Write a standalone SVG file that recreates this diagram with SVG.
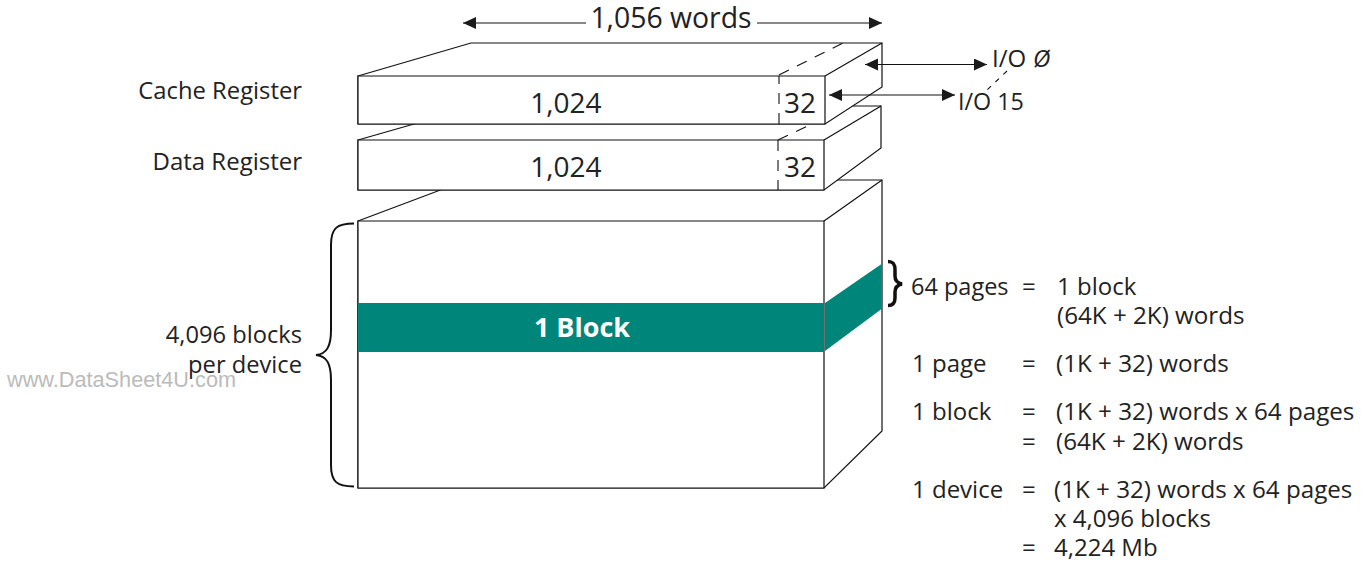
<svg xmlns="http://www.w3.org/2000/svg" width="1365" height="562" viewBox="0 0 1365 562">
<defs><marker id="a" markerWidth="14" markerHeight="14" refX="13" refY="6" orient="auto-start-reverse" markerUnits="userSpaceOnUse"><path d="M0 0L13 6L0 12z" fill="#1a1a1a"/></marker></defs>
<style>
text{font-family:"Open Sans","Noto Sans","Liberation Sans",sans-serif;fill:#222;font-size:24px}
.s{fill:#fff;stroke:#111;stroke-width:1.2}
.n{fill:none;stroke:#111;stroke-width:1.2}
.d{fill:none;stroke:#111;stroke-width:1.1;stroke-dasharray:11 9}
.m{font-size:28px}
</style>
<rect width="1365" height="562" fill="#fff"/>
<g id="device"><path class="s" d="M358 221L467 180H882V431L824 488H358z"/><path class="s" d="M358 221H824V488H358z"/><path class="n" d="M824 221L882 180"/>
<rect x="358" y="303" width="466" height="49" fill="#00857a"/><path d="M825 303L881.500 264V309L825 351z" fill="#00857a"/>
<text x="582" y="337" text-anchor="middle" style="font-size:27px;font-weight:700;fill:#fff">1 Block</text></g>
<g id="data-register"><path class="s" d="M358 140L477 106H881V148L824 190H358z"/><path class="s" d="M358 140H824V190H358z"/><path class="n" d="M824 140L881 106"/><path class="d" d="M778 140V190M778 140L812 124"/>
<text class="m" x="566" y="177" text-anchor="middle">1,024</text><text class="m" x="800" y="177" text-anchor="middle">32</text></g>
<g id="cache-register"><path class="s" d="M358 76L471 43H882V87L825 124H358z"/><path class="s" d="M358 76H825V124H358z"/><path class="n" d="M825 76L882 43"/><path class="d" d="M779 124V76M779 75L843 43"/>
<text class="m" x="566" y="113" text-anchor="middle">1,024</text><text class="m" x="800" y="113" text-anchor="middle">32</text></g>
<g id="connectors"><path class="n" marker-start="url(#a)" d="M463 23H586"/><path class="n" marker-end="url(#a)" d="M757 23H882"/>
<path class="n" marker-start="url(#a)" marker-end="url(#a)" d="M865 64.500H987"/><path class="n" marker-start="url(#a)" marker-end="url(#a)" d="M829 95H955"/><path class="d" style="stroke-dasharray:5 6" d="M1007 71L987 90"/></g>
<g id="braces"><path class="n" style="stroke-width:2" d="M354 223.500C337 223.500 331 228 331 245V330C331 346 327 354 316 355C327 356 331 364 331 380V465C331 482 337 486.500 354 486.500"/><path class="n" style="stroke-width:3.500" d="M888 261.500C893 261.500 895 264 895 270V276C895 280 897 283 902 284C897 285 895 288 895 292V298C895 303 893 305.500 888 305.500"/></g>
<g id="labels">
<text x="671" y="28" text-anchor="middle" style="font-size:28.400px">1,056 words</text>
<text x="302" y="99" text-anchor="end" style="font-size:23.800px">Cache Register</text><text x="302" y="170" text-anchor="end">Data Register</text>
<text x="302" y="343" text-anchor="end" style="font-size:23.700px">4,096 blocks</text><text x="302" y="373" text-anchor="end" style="font-size:23.700px">per device</text>
<text x="7" y="387" style="font-family:'Liberation Sans',sans-serif;font-size:21.700px;fill:#bbb">www.DataSheet4U.com</text>
<text x="992" y="67">I/O</text><text x="1033" y="67" style="font-style:italic">Ø</text><text x="958" y="110" style="font-size:23.300px">I/O 15</text>
<text x="911" y="295" style="font-size:23.500px">64 pages</text><text x="1022" y="295">=</text><text x="1057" y="295">1 block</text><text x="1057" y="324" style="font-size:24.200px">(64K + 2K) words</text>
<text x="912" y="372">1 page</text><text x="1022" y="372">=</text><text x="1056" y="372" style="font-size:24.200px">(1K + 32) words</text>
<text x="912" y="420">1 block</text><text x="1022" y="420">=</text><text x="1056" y="420" style="font-size:24.200px">(1K + 32) words x 64 pages</text>
<text x="1022" y="450">=</text><text x="1056" y="450" style="font-size:24.200px">(64K + 2K) words</text>
<text x="912" y="498">1 device</text><text x="1022" y="498">=</text><text x="1054" y="498" style="font-size:24.200px">(1K + 32) words x 64 pages</text>
<text x="1054" y="527">x 4,096 blocks</text><text x="1022" y="556">=</text><text x="1054" y="556">4,224 Mb</text>
</g>
</svg>
